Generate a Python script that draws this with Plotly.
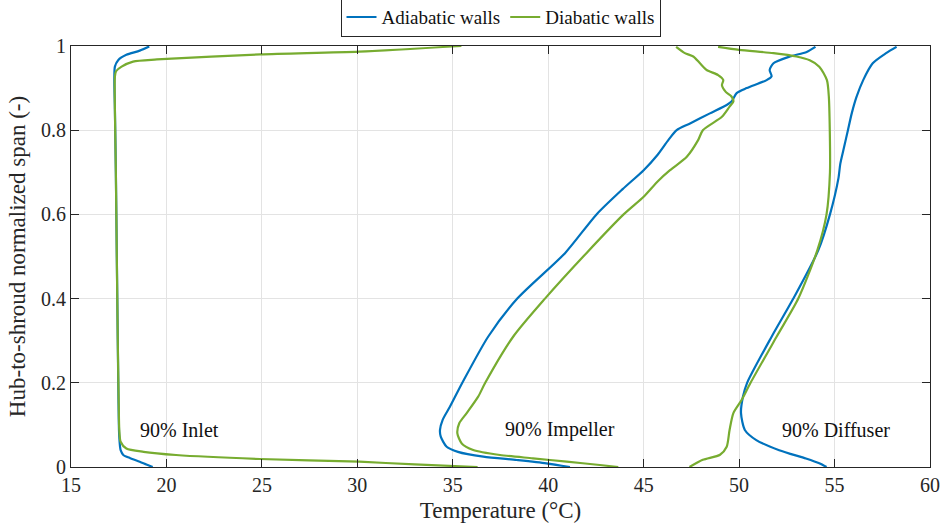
import plotly.graph_objects as go

# ---- data: (temperature °C, normalized span) ----
inlet_adi_T = [19.28, 18.95, 18.6, 18.1, 17.74, 17.6, 17.57, 17.52, 17.49, 17.45, 17.4, 17.35, 17.3, 17.27, 17.3, 17.48, 17.9, 18.6, 19.1]
inlet_adi_s = [0.0, 0.006, 0.0126, 0.021, 0.0285, 0.04, 0.048, 0.08, 0.15, 0.3, 0.5, 0.7, 0.85, 0.919, 0.951, 0.967, 0.979, 0.989, 0.999]

inlet_dia_T = [36.3, 33.0, 30.1, 24.9, 20.5, 18.8, 17.9, 17.6, 17.53, 17.5, 17.45, 17.4, 17.35, 17.3, 17.3, 17.36, 17.65, 18.25, 19.5, 24.9, 30.1, 35.45]
inlet_dia_s = [0.0, 0.006, 0.0126, 0.019, 0.0285, 0.036, 0.044, 0.06, 0.088, 0.15, 0.3, 0.5, 0.7, 0.85, 0.927, 0.94, 0.951, 0.963, 0.968, 0.980, 0.9865, 1.0]

imp_adi_T = [41.14, 39.9, 38.35, 36.6, 35.27, 34.68, 34.37, 34.33, 34.47, 34.85, 35.5, 36.86, 38.38, 40.88, 42.53, 43.9, 45.0, 45.7, 46.3, 46.73, 47.43, 48.47, 49.35, 49.6, 49.87, 50.4, 51.44, 51.7, 51.6, 51.8, 52.66, 53.54, 54.0]
imp_adi_s = [0.0, 0.0088, 0.0166, 0.0245, 0.036, 0.048, 0.072, 0.088, 0.112, 0.143, 0.2, 0.31, 0.4, 0.508, 0.6, 0.66, 0.705, 0.74, 0.777, 0.8, 0.816, 0.84, 0.86, 0.868, 0.888, 0.9, 0.919, 0.928, 0.943, 0.959, 0.975, 0.986, 0.998]

imp_dia_T = [43.67, 42.7, 40.97, 39.2, 37.47, 36.07, 35.47, 35.24, 35.34, 35.73, 36.33, 36.7, 38.17, 39.83, 42.0, 43.95, 45.0, 45.77, 46.38, 47.26, 47.86, 48.1, 49.1, 49.5, 49.7, 49.6, 49.3, 49.1, 49.17, 48.9, 48.3, 47.95, 47.6, 47.16, 46.7]
imp_dia_s = [0.0, 0.0048, 0.0126, 0.0206, 0.0285, 0.0404, 0.056, 0.08, 0.104, 0.128, 0.167, 0.2, 0.31, 0.4, 0.508, 0.6, 0.642, 0.68, 0.705, 0.737, 0.777, 0.8, 0.832, 0.856, 0.868, 0.880, 0.891, 0.907, 0.919, 0.931, 0.943, 0.959, 0.975, 0.983, 0.998]

dif_adi_T = [54.58, 54.2, 53.5, 52.1, 50.9, 50.3, 50.1, 50.2, 50.42, 51.71, 52.84, 54.15, 54.76, 55.2, 55.3, 55.5, 55.7, 55.9, 56.15, 56.5, 57.0, 57.7, 58.25]
dif_adi_s = [0.0, 0.0087, 0.02, 0.040, 0.064, 0.088, 0.128, 0.167, 0.2, 0.31, 0.4, 0.515, 0.6, 0.685, 0.72, 0.76, 0.8, 0.84, 0.879, 0.919, 0.959, 0.983, 0.998]

dif_dia_T = [47.4, 48.1, 49.0, 49.35, 49.5, 49.7, 50.13, 50.6, 51.97, 53.1, 54.1, 54.58, 54.76, 54.75, 54.7, 54.6, 54.2, 53.7, 53.0, 51.8, 50.0, 48.9]
dif_dia_s = [0.0, 0.017, 0.029, 0.048, 0.088, 0.128, 0.159, 0.2, 0.31, 0.4, 0.515, 0.6, 0.7, 0.8, 0.88, 0.919, 0.951, 0.966, 0.975, 0.983, 0.991, 0.998]

labels = ["90% Inlet", "90% Impeller", "90% Diffuser"]
label_T = [20.66, 40.6, 55.07]
label_s = [0.088, 0.088, 0.088]

x_ticks = [15, 20, 25, 30, 35, 40, 45, 50, 55, 60]
y_ticks = [0, 0.2, 0.4, 0.6, 0.8, 1]

BLUE = "#0072BD"
GREEN = "#77AC30"
FONT = "Liberation Serif, DejaVu Serif, Times New Roman, serif"


def join(*pairs):
    xs, ys = [], []
    for i, (x, y) in enumerate(pairs):
        if i:
            xs.append(None)
            ys.append(None)
        xs += x
        ys += y
    return xs, ys


fig = go.Figure()
ax, ay = join((inlet_adi_T, inlet_adi_s), (imp_adi_T, imp_adi_s), (dif_adi_T, dif_adi_s))
gx, gy = join((inlet_dia_T, inlet_dia_s), (imp_dia_T, imp_dia_s), (dif_dia_T, dif_dia_s))
fig.add_trace(go.Scatter(x=ax, y=ay, mode="lines", name="Adiabatic walls",
                         line=dict(color=BLUE, width=2.2, shape="spline", smoothing=0.7), connectgaps=False))
fig.add_trace(go.Scatter(x=gx, y=gy, mode="lines", name="Diabatic walls",
                         line=dict(color=GREEN, width=2.2, shape="spline", smoothing=0.7), connectgaps=False))

for t, xv, yv in zip(labels, label_T, label_s):
    fig.add_annotation(x=xv, y=yv, text=t, showarrow=False,
                       font=dict(family=FONT, size=20, color="#111"))

axis_common = dict(showline=True, linecolor="#262626", linewidth=1, mirror="ticks",
                   ticks="inside", ticklen=8, tickcolor="#262626", showgrid=True,
                   gridcolor="#e3e3e3", gridwidth=1, zeroline=False, automargin=False,
                   tickfont=dict(family=FONT, size=20, color="#262626"))

fig.update_xaxes(range=[15, 60], tickvals=x_ticks, ticktext=[str(v) for v in x_ticks],
                 title=dict(text="Temperature (°C)", font=dict(family=FONT, size=23, color="#262626"), standoff=6),
                 **axis_common)
fig.update_yaxes(range=[0, 1], tickvals=y_ticks, ticktext=["0", "0.2", "0.4", "0.6", "0.8", "1"],
                 title=dict(text="Hub-to-shroud normalized span (-)", font=dict(family=FONT, size=23, color="#262626"), standoff=8),
                 **axis_common)

fig.update_layout(
    width=943, height=529,
    margin=dict(l=71, r=13, t=46, b=62, autoexpand=False),
    plot_bgcolor="white", paper_bgcolor="white",
    font=dict(family=FONT, color="#111"),
    legend=dict(orientation="h", x=0.5, xanchor="center", y=1.116, yanchor="top",
                bordercolor="#262626", borderwidth=1, bgcolor="white",
                font=dict(family=FONT, size=19, color="#111"),
                itemwidth=30, tracegroupgap=0),
    showlegend=True,
)

fig.write_html("out.html")
